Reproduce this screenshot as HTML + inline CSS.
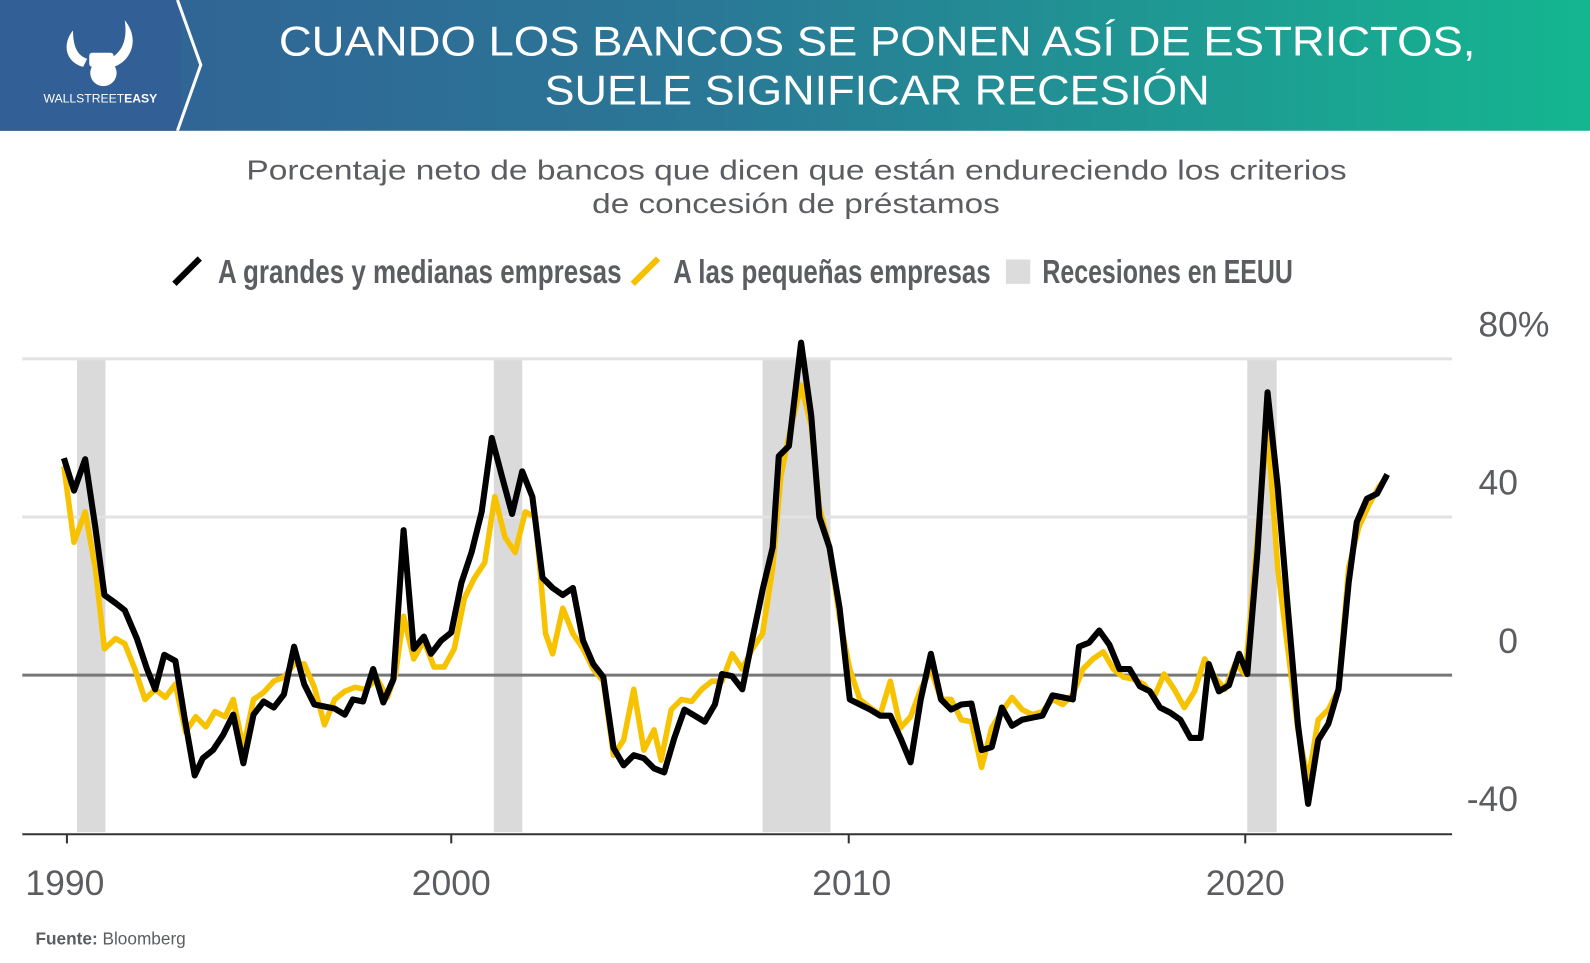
<!DOCTYPE html>
<html><head><meta charset="utf-8"><style>
html,body{margin:0;padding:0;background:#fff;}
svg{display:block;}
</style></head><body>
<svg width="1590" height="963" viewBox="0 0 1568 950" preserveAspectRatio="none" xmlns="http://www.w3.org/2000/svg">
<defs>
<linearGradient id="hg" x1="0" x2="1" y1="0" y2="0">
<stop offset="0" stop-color="#325f95"/>
<stop offset="0.45" stop-color="#2a7896"/>
<stop offset="1" stop-color="#14b690"/>
</linearGradient>
</defs>
<rect x="0" y="0" width="1568" height="129" fill="url(#hg)"/>
<rect x="0" y="0" width="178" height="129" fill="#325f95"/>
<polyline points="175,0 198,64 175,129" fill="none" stroke="#fff" stroke-width="3"/>
<g fill="#fff">
<path d="M72,30 C60,45 66,62 82,66 L86,58 C76,55 72,45 72,30 Z"/>
<path d="M123,20 C138,38 130,60 112,66 L108,58 C120,52 126,40 123,20 Z"/>
<rect x="88" y="52" width="24" height="14" rx="3"/>
<circle cx="102" cy="72" r="13"/>
</g>
<text x="99" y="101" font-family="Liberation Sans, sans-serif" font-size="12" fill="#fff" text-anchor="middle">WALLSTREET<tspan font-weight="bold">EASY</tspan></text>
<g font-family="Liberation Sans, sans-serif" fill="#fff" font-size="41">
<text x="275" y="55" textLength="1180" lengthAdjust="spacingAndGlyphs">CUANDO LOS BANCOS SE PONEN ASÍ DE ESTRICTOS,</text>
<text x="537" y="103" textLength="656" lengthAdjust="spacingAndGlyphs">SUELE SIGNIFICAR RECESIÓN</text>
</g>
<g font-family="Liberation Sans, sans-serif" fill="#5b5d61" font-size="27">
<text x="243" y="177" textLength="1085" lengthAdjust="spacingAndGlyphs">Porcentaje neto de bancos que dicen que están endureciendo los criterios</text>
<text x="584" y="210" textLength="402" lengthAdjust="spacingAndGlyphs">de concesión de préstamos</text>
</g>
<line x1="172" y1="280" x2="197" y2="255" stroke="#000" stroke-width="6"/>
<line x1="624" y1="280" x2="649" y2="255" stroke="#f5c000" stroke-width="6"/>
<rect x="992" y="256" width="24" height="24" fill="#dcdcdc"/>
<g font-family="Liberation Sans Narrow, Liberation Sans, sans-serif" fill="#5b5d61" font-size="33" font-weight="bold">
<text x="215" y="279" textLength="398" lengthAdjust="spacingAndGlyphs">A grandes y medianas empresas</text>
<text x="664" y="279" textLength="313" lengthAdjust="spacingAndGlyphs">A las pequeñas empresas</text>
<text x="1028" y="279" textLength="247" lengthAdjust="spacingAndGlyphs">Recesiones en EEUU</text>
</g>
<g fill="#dadada">
<rect x="76" y="354" width="28" height="467"/>
<rect x="487" y="354" width="28" height="467"/>
<rect x="752" y="354" width="67" height="467"/>
<rect x="1230" y="354" width="29" height="467"/>
</g>
<line x1="22" y1="354" x2="1432" y2="354" stroke="#e2e2e2" stroke-width="3"/>
<line x1="22" y1="510" x2="1432" y2="510" stroke="#e2e2e2" stroke-width="3"/>
<line x1="22" y1="666" x2="1432" y2="666" stroke="#777" stroke-width="3"/>
<line x1="22" y1="823" x2="1432" y2="823" stroke="#333" stroke-width="2"/>
<g stroke="#333" stroke-width="2">
<line x1="66" y1="823" x2="66" y2="832"/><line x1="445" y1="823" x2="445" y2="832"/>
<line x1="837" y1="823" x2="837" y2="832"/><line x1="1228" y1="823" x2="1228" y2="832"/>
</g>
<g font-family="Liberation Sans, sans-serif" fill="#5b5d61" font-size="35">
<text x="1528" y="332" text-anchor="end">80%</text>
<text x="1497" y="488" text-anchor="end">40</text>
<text x="1497" y="644" text-anchor="end">0</text>
<text x="1497" y="800" text-anchor="end">-40</text>
<g text-anchor="middle">
<text x="64" y="883">1990</text><text x="445" y="883">2000</text>
<text x="840" y="883">2010</text><text x="1228" y="883">2020</text>
</g>
</g>
<polyline fill="none" stroke="#f7c200" stroke-width="5.5" stroke-linejoin="round" points="63,460 73,535 84,505 94,560 103,640 114,630 123,635 133,660 143,690 153,680 163,688 173,675 183,722 193,707 203,717 212,702 222,707 230,690 240,738 250,690 260,683 270,672 280,668 290,655 300,655 310,678 320,715 330,690 340,682 350,678 360,680 372,670 382,688 390,665 398,608 408,650 418,632 428,658 438,658 448,640 458,590 468,570 478,555 488,490 498,530 508,545 518,505 528,510 538,625 545,645 555,600 565,625 575,640 585,660 595,672 605,745 615,730 625,680 635,740 645,720 652,750 662,700 672,690 682,692 692,680 702,672 712,672 722,645 732,660 742,640 752,625 762,560 770,470 778,430 790,380 800,420 808,500 818,540 828,610 838,660 848,690 858,698 868,705 878,672 888,718 898,707 908,680 918,660 928,690 938,690 948,710 958,712 968,757 978,718 988,702 998,688 1008,700 1018,705 1028,702 1038,690 1048,695 1058,685 1068,660 1078,650 1088,643 1098,660 1108,668 1118,670 1128,675 1138,688 1148,665 1158,680 1168,698 1178,682 1188,650 1198,668 1208,680 1218,655 1228,665 1240,530 1250,420 1260,560 1270,640 1280,720 1290,770 1300,710 1310,700 1320,680 1330,560 1340,520 1350,498 1360,480 1368,470"/>
<polyline fill="none" stroke="#000" stroke-width="6" stroke-linejoin="round" points="63,452 73,484 84,453 94,520 103,587 114,595 123,602 135,630 145,660 153,680 162,646 173,652 182,708 192,765 200,748 210,740 220,725 230,705 240,753 250,705 260,692 270,698 280,685 290,638 300,675 310,695 320,697 330,699 340,705 348,690 358,692 368,660 378,693 388,670 398,523 408,640 418,628 425,645 435,632 445,624 455,575 465,545 475,505 485,432 495,470 505,507 515,465 525,490 535,570 545,580 555,587 565,580 575,632 585,655 595,668 605,738 615,755 625,745 635,748 645,758 655,762 665,728 675,700 685,706 695,712 705,695 712,665 722,667 732,680 742,630 752,582 762,540 768,450 778,440 790,338 800,410 808,510 818,540 828,600 838,690 848,695 858,700 868,706 878,706 888,728 898,752 908,690 918,645 928,690 938,700 948,695 958,694 968,740 978,737 988,698 998,716 1008,710 1018,708 1028,706 1038,686 1048,688 1058,690 1064,638 1074,634 1084,622 1094,636 1104,660 1114,660 1124,677 1134,682 1144,698 1154,703 1164,710 1174,728 1184,728 1192,655 1202,682 1212,676 1222,645 1230,665 1240,545 1250,387 1260,480 1270,600 1280,715 1290,793 1300,730 1310,714 1320,680 1330,575 1338,515 1348,492 1358,487 1368,468"/>
<text x="35" y="932" font-family="Liberation Sans, sans-serif" font-size="17" fill="#5b5d61"><tspan font-weight="bold">Fuente:</tspan> Bloomberg</text>
</svg>
</body></html>
